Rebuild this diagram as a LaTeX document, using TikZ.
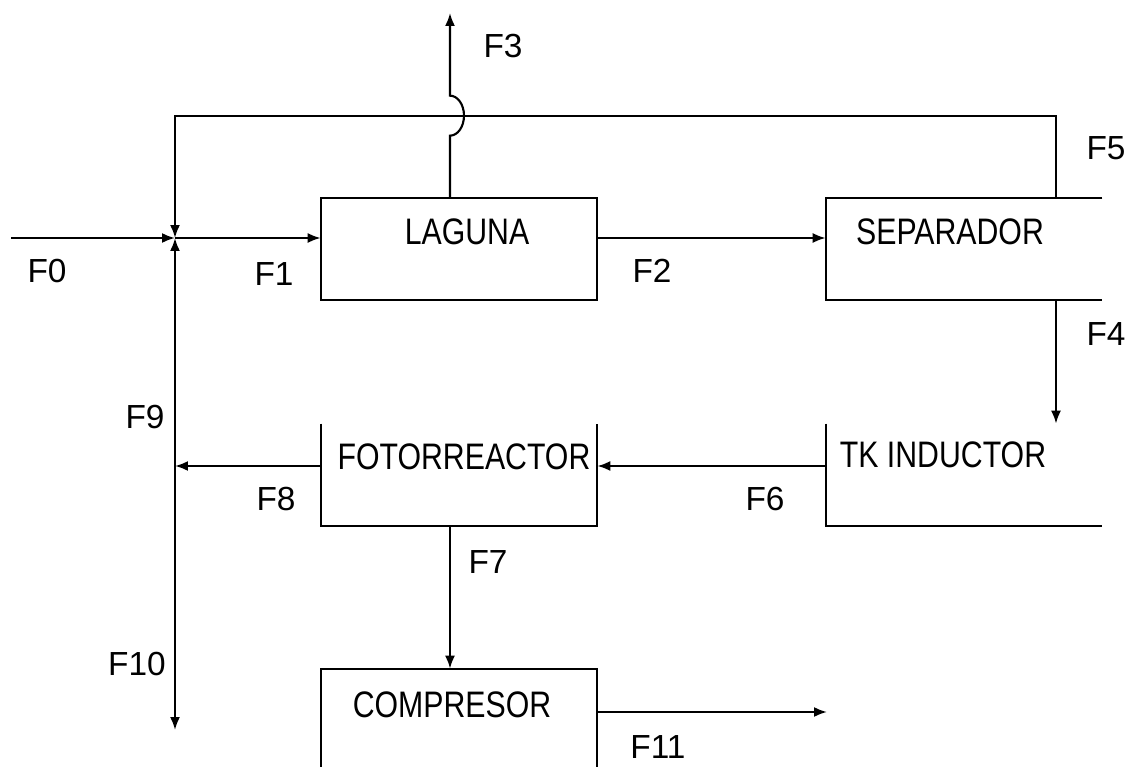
\documentclass[tikz,border=0pt]{standalone}
\usepackage{fontspec}
\setmainfont{Liberation Sans}
\newfontfamily\narrowfont[FakeStretch=0.82]{Liberation Sans}
\usetikzlibrary{arrows.meta}

\begin{document}
\begin{tikzpicture}[
  x=0.02cm, y=-0.02cm,
  % Node Styles
  unit/.style={rectangle, minimum width=5.52cm, minimum height=2.04cm, inner sep=0pt},
  unittext/.style={font=\narrowfont\fontsize{21}{21}\selectfont, inner sep=0pt},
  flowlabel/.style={font=\fontsize{19}{19}\selectfont, inner sep=0pt},
  % Line Styles
  boxline/.style={line width=1.2pt},
  solidarrow/.style={-{Latex[length=2.6mm,width=2mm]}, line width=1.2pt}
]
\useasboundingbox (0,0) rectangle (1143,767);

% Units of the flowsheet

\node[unit] (U_0) at (459,249) {};
\node[unit] (U_1) at (964,249) {};
\node[unit] (U_2) at (964,475) {};
\node[unit] (U_3) at (459,475) {};
\node[unit, minimum height=1.96cm] (U_4) at (459,718) {};

\draw[boxline] (U_0.north west) rectangle (U_0.south east);
\draw[boxline] (U_1.north east) -- (U_1.north west) -- (U_1.south west) -- (U_1.south east);
\draw[boxline] (U_2.north west) -- (U_2.south west) -- (U_2.south east);
\draw[boxline] (U_3.north west) -- (U_3.south west) -- (U_3.south east) -- (U_3.north east);
\draw[boxline] (U_4.south west) -- (U_4.north west) -- (U_4.north east) -- (U_4.south east);

\node[unittext] (T_0) at (467,232) {LAGUNA};
\node[unittext] (T_1) at (950,232) {SEPARADOR};
\node[unittext] (T_2) at (943,455) {TK INDUCTOR};
\node[unittext] (T_3) at (464,457) {FOTORREACTOR};
\node[unittext] (T_4) at (452,705) {COMPRESOR};

% Junctions and free ends

\coordinate (J_0) at (175,238);
\coordinate (J_1) at (175,466);
\coordinate (S_0) at (11,238);
\coordinate (S_3) at (450,13);
\coordinate (S_10) at (175,730);
\coordinate (S_11) at (827,712);
\coordinate (R_0) at (1056,116);
\coordinate (R_1) at (175,116);

% Streams

\draw[solidarrow] (S_0) -- (J_0);
\draw[solidarrow] (J_0) -- (U_0.west |- J_0);
\draw[solidarrow] (U_0.east |- J_0) -- (U_1.west |- J_0);
\draw[solidarrow] (U_0.north -| S_3) -- ++(0,-62) arc[start angle=90, end angle=-90, x radius=14, y radius=20] -- (S_3);
\draw[solidarrow] (U_1.south -| R_0) -- (U_2.north -| R_0);
\draw[solidarrow] (U_1.north -| R_0) -- (R_0) -- (R_1) -- (J_0);
\draw[solidarrow] (U_2.west |- J_1) -- (U_3.east |- J_1);
\draw[solidarrow] (U_3.south -| S_3) -- (U_4.north -| S_3);
\draw[solidarrow] (U_3.west |- J_1) -- (J_1);
\draw[solidarrow] (J_1) -- (J_0);
\draw[solidarrow] (J_1) -- (S_10);
\draw[solidarrow] (U_4.east |- S_11) -- (S_11);

\node[flowlabel] (L_0) at (47,271) {F0};
\node[flowlabel] (L_1) at (274,274) {F1};
\node[flowlabel] (L_2) at (652,271) {F2};
\node[flowlabel] (L_3) at (503,46) {F3};
\node[flowlabel] (L_4) at (1106,334) {F4};
\node[flowlabel] (L_5) at (1106,148) {F5};
\node[flowlabel] (L_6) at (765,499) {F6};
\node[flowlabel] (L_7) at (488,562) {F7};
\node[flowlabel] (L_8) at (276,499) {F8};
\node[flowlabel] (L_9) at (145,417) {F9};
\node[flowlabel] (L_10) at (137,664) {F10};
\node[flowlabel] (L_11) at (658,747) {F11};

\end{tikzpicture}
\end{document}
